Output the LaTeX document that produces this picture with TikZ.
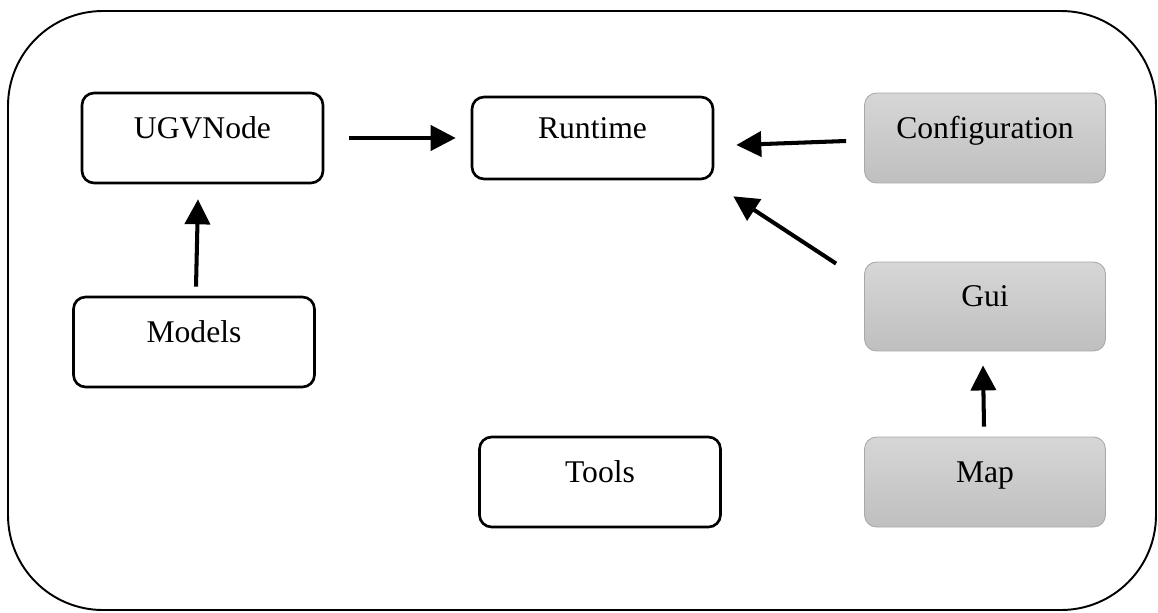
\documentclass[tikz,border=0pt]{standalone}
\usepackage{fontspec}
\setmainfont{Liberation Serif}
\usepackage{tikz}
\usetikzlibrary{arrows.meta,positioning}
\definecolor{boxtop}{rgb}{0.84,0.84,0.84}
\definecolor{boxbot}{rgb}{0.75,0.75,0.75}
\definecolor{boxline}{rgb}{0.66,0.66,0.66}
\tikzstyle{module}=[draw=black,line width=1.5pt,rounded corners=0.24cm,
                minimum width=4.82cm,minimum height=1.8cm,inner sep=0pt,
                text height=0.4cm,text depth=0.4cm,font=\fontsize{18}{20}\selectfont]
\tikzstyle{extmodule}=[module,draw=boxline,line width=0.5pt,
                top color=boxtop,bottom color=boxbot]
\tikzstyle{dep}=[-{Triangle[length=0.5cm,width=0.5cm]},line width=2.3pt]

\begin{document}
\begin{tikzpicture}[x=0.02cm,y=-0.02cm]

% % % % % % % % % % % % % % %

\useasboundingbox (0,0) rectangle (1158,612);
\draw[line width=1.1pt,rounded corners=1.9cm] (8,11) rectangle (1156,610);

\node[module] (ugv) at (202.5,138) {UGVNode};
\node[module,minimum height=1.64cm] (runtime) at (592.5,138) {Runtime};
\node[extmodule] (config) at (985,138) {Configuration};
\node[module] (models) at (194,342) {Models};
\node[extmodule,minimum height=1.78cm] (gui) at (985,306.5) {Gui};
\node[module] (tools) at (600,482) {Tools};
\node[extmodule] (map) at (985,482) {Map};

\draw[dep,shorten <=0.5cm,shorten >=0.3cm] (ugv.east) -- (runtime.west);
\draw[dep] ([xshift=-0.36cm,yshift=-0.06cm]config.west) -- ([xshift=0.44cm,yshift=-0.14cm]runtime.east);
\draw[dep] ([xshift=-0.56cm,yshift=-0.04cm]gui.north west) -- ([xshift=0.38cm,yshift=-0.32cm]runtime.south east);
\draw[dep] ([xshift=0.04cm,yshift=0.18cm]models.north) -- ([xshift=-0.09cm,yshift=-0.3cm]ugv.south);
\draw[dep] ([xshift=-0.02cm,yshift=0.2cm]map.north) -- ([xshift=-0.04cm,yshift=-0.28cm]gui.south);

\end{tikzpicture}
\end{document}
